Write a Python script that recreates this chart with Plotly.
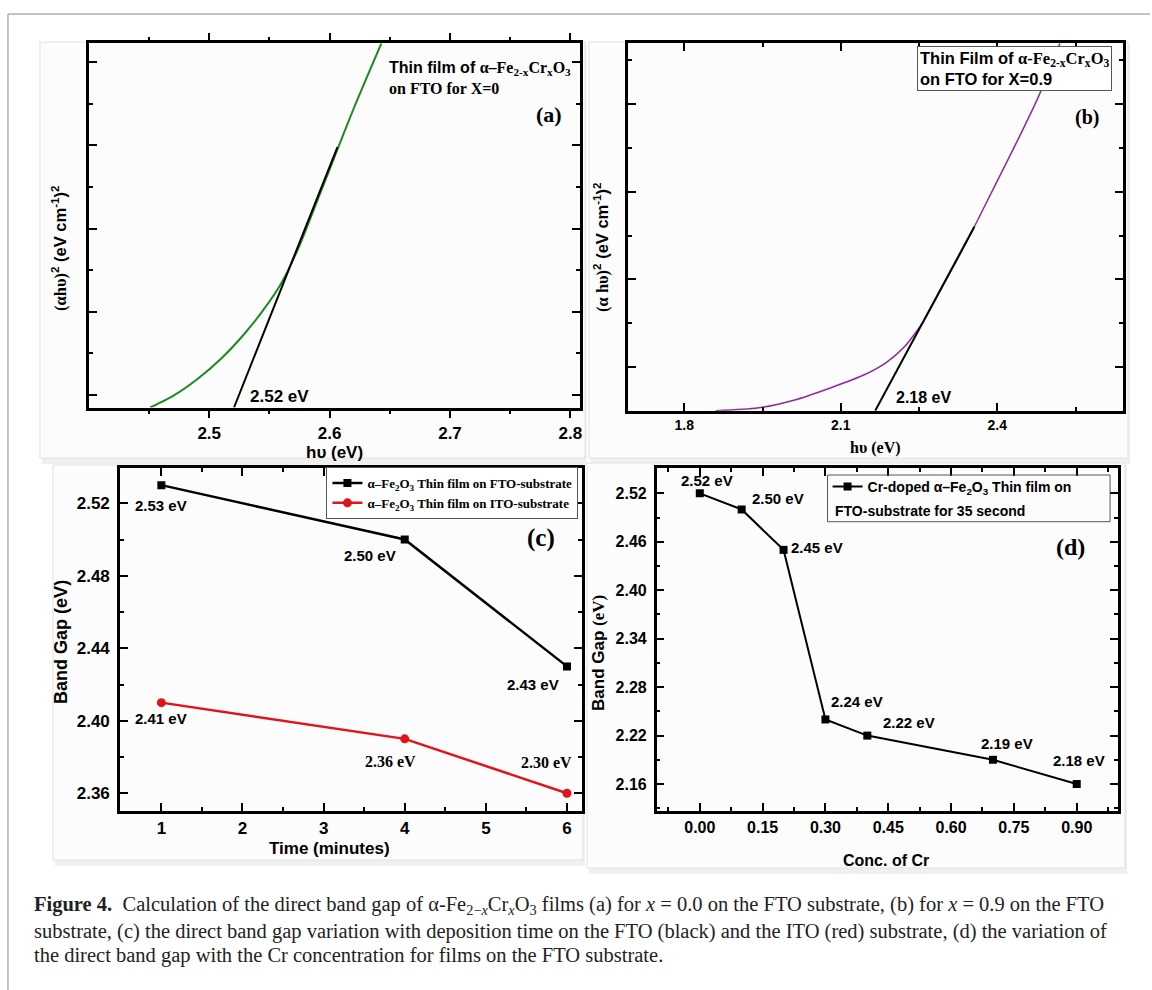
import plotly.graph_objects as go

W, H = 1152, 990
SANS = "Liberation Sans, Arial, sans-serif"
SERIF = "Liberation Serif, Times New Roman, serif"

# ---------------- data ----------------
# (a) Tauc plot, x = 0
a_hv = [2.451, 2.470, 2.490, 2.510, 2.530, 2.545, 2.560, 2.575, 2.590, 2.605, 2.620, 2.643]
a_ahv2 = [0.0, 0.28, 0.68, 1.18, 1.80, 2.35, 3.00, 3.90, 5.00, 6.10, 7.20, 8.77]
a_fit_hv = [2.5206, 2.6065]
a_fit_ahv2 = [0.0, 6.27]
a_gap_label = "2.52 eV"
a_xticks = [2.5, 2.6, 2.7, 2.8]

# (b) Tauc plot, x = 0.9
b_hv = [1.860, 1.940, 2.010, 2.080, 2.145, 2.187, 2.222, 2.257, 2.292, 2.328, 2.356, 2.400, 2.440, 2.480, 2.520]
b_ahv2 = [0.0, 0.06, 0.24, 0.52, 0.82, 1.10, 1.46, 2.01, 2.77, 3.56, 4.20, 5.25, 6.20, 7.20, 8.39]
b_fit_hv = [2.166, 2.356]
b_fit_ahv2 = [0.0, 4.20]
b_gap_label = "2.18 eV"
b_xticks = [1.8, 2.1, 2.4]

# (c) band gap vs deposition time
c_time = [1, 4, 6]
c_fto = [2.53, 2.50, 2.43]
c_ito = [2.41, 2.39, 2.36]
c_fto_labels = ["2.53 eV", "2.50 eV", "2.43 eV"]
c_ito_labels = ["2.41 eV", "2.36 eV", "2.30 eV"]
c_xticks = [1, 2, 3, 4, 5, 6]
c_yticks = [2.36, 2.40, 2.44, 2.48, 2.52]
c_names = ["α–Fe<sub>2</sub>O<sub>3</sub> Thin film on FTO-substrate",
           "α–Fe<sub>2</sub>O<sub>3</sub> Thin film on ITO-substrate"]

# (d) band gap vs Cr concentration
d_conc = [0.0, 0.1, 0.2, 0.3, 0.4, 0.7, 0.9]
d_gap = [2.52, 2.50, 2.45, 2.24, 2.22, 2.19, 2.16]
d_labels = ["2.52 eV", "2.50 eV", "2.45 eV", "2.24 eV", "2.22 eV", "2.19 eV", "2.18 eV"]
d_xticks = [0.0, 0.15, 0.30, 0.45, 0.60, 0.75, 0.90]
d_xticktext = ["0.00", "0.15", "0.30", "0.45", "0.60", "0.75", "0.90"]
d_yticks = [2.16, 2.22, 2.28, 2.34, 2.40, 2.46, 2.52]

caption_lines = [
    "<b>Figure 4.</b>  Calculation of the direct band gap of α-Fe<sub>2−<i>x</i></sub>Cr<sub><i>x</i></sub>O<sub>3</sub> "
    "films (a) for <i>x</i> = 0.0 on the FTO substrate, (b) for <i>x</i> = 0.9 on the FTO",
    "substrate, (c) the direct band gap variation with deposition time on the FTO (black) and the ITO (red) "
    "substrate, (d) the variation of",
    "the direct band gap with the Cr concentration for films on the FTO substrate.",
]

# ---------------- layout helpers ----------------
def px(x):
    return x / W

def py(y):
    return 1 - y / H

# label offsets (pixels) relative to points
c_fto_off = [(0, -20), (-35, -16), (-34, -18)]
c_ito_off = [(0, -16), (-14, -23), (-20, 31)]
c_ito_serif = [False, True, True]
d_off = [(7, 13), (36, 11), (33, 2), (32, 18), (42, 13), (14, 16), (2, 24)]

fig = go.Figure()

# (a)
fig.add_trace(go.Scatter(x=a_hv, y=a_ahv2, mode="lines", line=dict(color="#1f8a1f", width=2, shape="spline", smoothing=0.6),
                         xaxis="x", yaxis="y", showlegend=False))
fig.add_trace(go.Scatter(x=a_fit_hv, y=a_fit_ahv2, mode="lines", line=dict(color="black", width=2),
                         xaxis="x", yaxis="y", showlegend=False))
# (b)
fig.add_trace(go.Scatter(x=b_hv, y=b_ahv2, mode="lines", line=dict(color="#8e2a9e", width=1.5, shape="spline", smoothing=0.6),
                         xaxis="x2", yaxis="y2", showlegend=False))
fig.add_trace(go.Scatter(x=b_fit_hv, y=b_fit_ahv2, mode="lines", line=dict(color="black", width=2),
                         xaxis="x2", yaxis="y2", showlegend=False))
# (c)
fig.add_trace(go.Scatter(x=c_time, y=c_fto, mode="lines+markers", name=c_names[0],
                         line=dict(color="black", width=2.5),
                         marker=dict(symbol="square", size=8, color="black"),
                         xaxis="x3", yaxis="y3", legend="legend"))
fig.add_trace(go.Scatter(x=c_time, y=c_ito, mode="lines+markers", name=c_names[1],
                         line=dict(color="#e3131b", width=2.5),
                         marker=dict(symbol="circle", size=9, color="#e3131b"),
                         xaxis="x3", yaxis="y3", legend="legend"))
# (d)
fig.add_trace(go.Scatter(x=d_conc, y=d_gap, mode="lines+markers",
                         name="Cr-doped α–Fe<sub>2</sub>O<sub>3</sub> Thin film on",
                         line=dict(color="black", width=2),
                         marker=dict(symbol="square", size=8, color="black"),
                         xaxis="x4", yaxis="y4", legend="legend2"))


def axis(domain, anchor, rng, ticks="inside", fsize=16, **kw):
    d = dict(domain=domain, anchor=anchor, range=rng, showline=True, linecolor="black",
             linewidth=2.5, mirror="ticks", showgrid=False, zeroline=False, ticks=ticks,
             tickcolor="black", tickwidth=2, ticklen=8,
             tickfont=dict(family=SANS, size=fsize, color="black", weight="bold"))
    d.update(kw)
    return d

minor_common = dict(ticklen=4, tickwidth=1.5, tickcolor="black", showgrid=False)

layout = dict(
    width=W, height=H, margin=dict(l=0, r=0, t=0, b=0),
    paper_bgcolor="white", plot_bgcolor="white",
    xaxis=axis([px(89), px(581)], "y", [2.400, 2.808], ticks="outside", fsize=17,
               tickvals=a_xticks, ticktext=[str(v) for v in a_xticks],
               minor=dict(ticks="outside", tick0=2.45, dtick=0.1, **minor_common)),
    yaxis=axis([py(407.5), py(43.3)], "x", [0, 8.77], showticklabels=False,
               tick0=0.31, dtick=2, minor=dict(ticks="inside", tick0=0.31, dtick=1, **minor_common)),
    xaxis2=axis([px(629.5), px(1125)], "y2", [1.693, 2.641], fsize=14,
                tickvals=b_xticks, ticktext=[str(v) for v in b_xticks],
                minor=dict(ticks="inside", tick0=1.65, dtick=0.3, **minor_common)),
    yaxis2=axis([py(410.7), py(43.3)], "x2", [0, 8.39], showticklabels=False,
                tick0=1, dtick=2, minor=dict(ticks="inside", tick0=0, dtick=1, **minor_common)),
    xaxis3=axis([px(120.2), px(583)], "y3", [0.49, 6.185], fsize=17,
                tickvals=c_xticks, ticktext=[str(v) for v in c_xticks],
                minor=dict(ticks="inside", tick0=0.5, dtick=1, **minor_common)),
    yaxis3=axis([py(811), py(468.3)], "x3", [2.3502, 2.5393], fsize=17,
                tickvals=c_yticks, ticktext=[f"{v:.2f}" for v in c_yticks], ticklabelstandoff=4,
                minor=dict(ticks="inside", tick0=2.34, dtick=0.04, **minor_common)),
    xaxis4=axis([px(657.8), px(1119.7)], "y4", [-0.103, 0.998], fsize=16,
                tickvals=d_xticks, ticktext=d_xticktext,
                minor=dict(ticks="inside", tick0=-0.075, dtick=0.15, **minor_common)),
    yaxis4=axis([py(810.7), py(468.3)], "x4", [2.127, 2.551], fsize=16,
                tickvals=d_yticks, ticktext=[f"{v:.2f}" for v in d_yticks], ticklabelstandoff=4,
                minor=dict(ticks="inside", tick0=2.13, dtick=0.06, **minor_common)),
    legend=dict(x=px(327), y=py(467), xanchor="left", yanchor="top", bgcolor="white",
                bordercolor="#555", borderwidth=1, itemwidth=30,
                font=dict(family=SERIF, size=13, color="black", weight="bold")),
    legend2=dict(x=px(829), y=py(471), xanchor="left", yanchor="top", bgcolor="rgba(0,0,0,0)",
                 borderwidth=0, itemwidth=30,
                 font=dict(family=SANS, size=14, color="black", weight="bold")),
)
fig.update_layout(**layout)

# ---------------- background cards and frame ----------------
shapes = []
cards = [(40, 42, 586, 458), (590, 42, 1130, 458), (53, 465, 584, 860), (588, 463, 1127, 868)]
for (x0, y0, x1, y1) in cards:
    shapes.append(dict(type="rect", xref="paper", yref="paper", x0=px(x0 + 2), x1=px(x1 + 2),
                       y0=py(y1 + 6), y1=py(y0 + 2), fillcolor="rgba(0,0,0,0.06)",
                       line=dict(width=0), layer="below"))
    shapes.append(dict(type="rect", xref="paper", yref="paper", x0=px(x0), x1=px(x1),
                       y0=py(y1), y1=py(y0), fillcolor="#fcfcfc",
                       line=dict(color="#e2e2e2", width=1), layer="below"))
# outer frame
shapes.append(dict(type="line", xref="paper", yref="paper", x0=px(8), x1=1, y0=py(14), y1=py(14),
                   line=dict(color="#b0b0b0", width=1.5)))
shapes.append(dict(type="line", xref="paper", yref="paper", x0=px(8), x1=px(8), y0=0, y1=py(14),
                   line=dict(color="#b0b0b0", width=1.5)))
# legend box of (d)
shapes.append(dict(type="rect", xref="paper", yref="paper", x0=px(829), x1=px(1112),
                   y0=py(521.7), y1=py(475), line=dict(color="#555", width=1),
                   fillcolor="rgba(0,0,0,0)", layer="above"))
fig.update_layout(shapes=shapes)

# ---------------- annotations ----------------
ann = []

def txt(x, y, text, size, family=SANS, angle=0, xanchor="center", yanchor="middle", weight="bold", color="black", **kw):
    d = dict(x=px(x), y=py(y), xref="paper", yref="paper", text=text, showarrow=False,
             textangle=angle, xanchor=xanchor, yanchor=yanchor,
             font=dict(family=family, size=size, color=color, weight=weight))
    d.update(kw)
    ann.append(d)

# panel (a)
txt(59, 248, "<span style='font-family:Liberation Serif'>(αhυ)</span><sup>2</sup> (eV cm<sup>-1</sup>)<sup>2</sup>",
    16.5, angle=-90)
txt(335, 452, "hυ (eV)", 17)
txt(388, 77.5, "<span style='font-family:Liberation Sans'>Thin film of </span>α–Fe<sub>2-x</sub>Cr<sub>x</sub>O<sub>3</sub><br>on FTO for X=0",
    16, family=SERIF, xanchor="left", align="left")
txt(550, 115, "(a)", 22, family=SERIF)
ann.append(dict(x=a_fit_hv[0], y=a_fit_ahv2[0], xref="x", yref="y", text=a_gap_label, showarrow=False,
                xshift=45, yshift=11, font=dict(family=SANS, size=17, color="black", weight="bold")))

# panel (b)
txt(603, 247, "<span style='font-family:Liberation Serif'>(α hυ)</span><sup>2</sup> (eV cm<sup>-1</sup>)<sup>2</sup>",
    16.5, angle=-90)
txt(877, 448, "hυ (eV)", 16, family=SERIF)
txt(919, 68, "Thin Film of <span style='font-family:Liberation Serif'>α-Fe<sub>2-x</sub>Cr<sub>x</sub>O<sub>3</sub></span><br>on FTO for X=0.9",
    16.5, xanchor="left", align="left", bgcolor="white", bordercolor="#555", borderwidth=1, borderpad=2)
txt(1089, 118, "(b)", 20, family=SERIF)
ann.append(dict(x=b_fit_hv[0], y=b_fit_ahv2[0], xref="x2", yref="y2", text=b_gap_label, showarrow=False,
                xshift=48, yshift=13, font=dict(family=SANS, size=16, color="black", weight="bold")))

# panel (c)
txt(61, 642, "Band Gap (eV)", 18, angle=-90)
txt(330, 848, "Time (minutes)", 17)
txt(542, 538, "(c)", 25, family=SERIF)
for xv, yv, lab, (dx, dy) in zip(c_time, c_fto, c_fto_labels, c_fto_off):
    ann.append(dict(x=xv, y=yv, xref="x3", yref="y3", text=lab, showarrow=False, xshift=dx, yshift=dy,
                    font=dict(family=SANS, size=15, color="black", weight="bold")))
for xv, yv, lab, (dx, dy), serif in zip(c_time, c_ito, c_ito_labels, c_ito_off, c_ito_serif):
    ann.append(dict(x=xv, y=yv, xref="x3", yref="y3", text=lab, showarrow=False, xshift=dx, yshift=dy,
                    font=dict(family=SERIF if serif else SANS, size=16 if serif else 15,
                              color="black", weight="bold")))

# panel (d)
txt(599, 653, "Band Gap <span style='font-family:Liberation Serif'>(eV)</span>", 17, angle=-90)
txt(888, 860, "Conc. of Cr", 16)
txt(1072, 547, "(d)", 24, family=SERIF)
txt(834.5, 510.7, "FTO-substrate for 35 second", 14, xanchor="left")
for xv, yv, lab, (dx, dy) in zip(d_conc, d_gap, d_labels, d_off):
    ann.append(dict(x=xv, y=yv, xref="x4", yref="y4", text=lab, showarrow=False, xshift=dx, yshift=dy,
                    font=dict(family=SANS, size=15, color="black", weight="bold")))

# caption, one annotation per printed line
for line, yline in zip(caption_lines, [905, 931, 955]):
    txt(32, yline, line, 20.5, family=SERIF, xanchor="left", weight="normal", color="#222", align="left")

fig.update_layout(annotations=ann)
fig.write_html("out.html", config={"displayModeBar": False},
               post_script="document.body.style.margin='0px';document.body.style.overflow='hidden';")
